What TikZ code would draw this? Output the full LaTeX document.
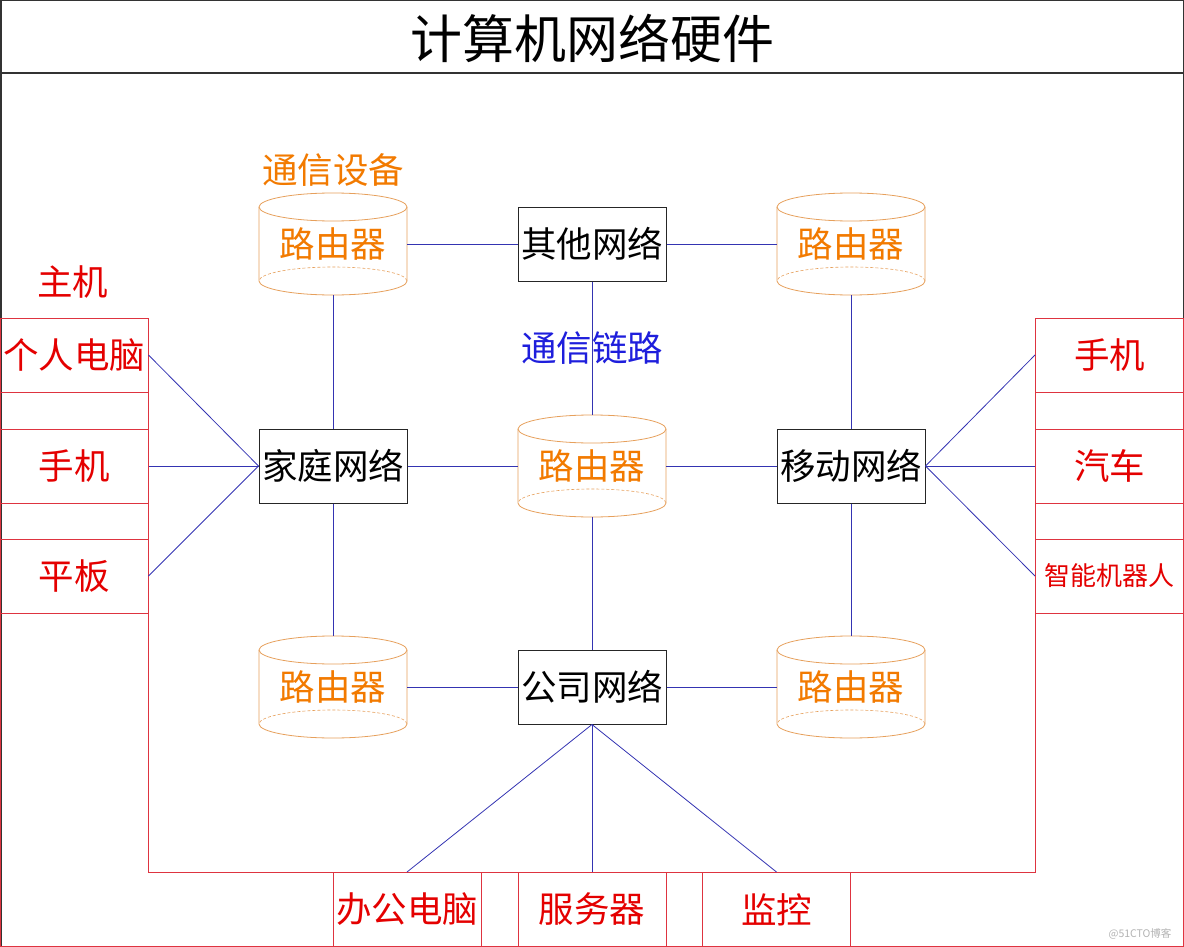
\documentclass[tikz,border=0pt]{standalone}
\usepackage{fontspec}
\newfontfamily\cjk{Noto Sans CJK SC}
\definecolor{hostred}{RGB}{228,0,0}
\definecolor{frame}{RGB}{222,52,64}
\definecolor{linkblue}{RGB}{52,52,178}
\definecolor{labelblue}{RGB}{30,30,220}
\definecolor{devorange}{RGB}{242,122,0}
\definecolor{cylline}{RGB}{230,160,92}
\begin{document}
\begin{tikzpicture}[x=1pt, y=-1pt,
    net/.style={draw=black!85, line width=1pt, minimum width=148pt, minimum height=74pt, inner sep=0pt, font=\cjk\fontsize{35.5}{40}\selectfont},
    host/.style={draw=frame, line width=1pt, minimum width=148pt, minimum height=74pt, inner sep=0pt, text=hostred, font=\cjk\fontsize{35.5}{40}\selectfont},
    router/.style={minimum width=148pt, minimum height=102pt, inner sep=0pt, text=devorange, font=\cjk\fontsize{35.5}{40}\selectfont},
    link/.style={draw=linkblue, line width=0.8pt},
    cyl/.style={draw=cylline, line width=0.8pt}]
      \useasboundingbox (0,0) rectangle (1184,947);
      \draw[line width=1.5pt, black!80] (0.75,0.75) rectangle (1183.25,946.25);
      \draw[line width=1.5pt, black!80] (0,73) -- (1184,73);
      \node[font=\cjk\fontsize{52}{58}\selectfont] (title) at (592,38) {计算机网络硬件};

      % red frame round the hosts
      \draw[frame, line width=1pt] (0.5,318) -| (148,872) -| (1035,318) -- (1183.5,318) |- (0.5,946.5) -- cycle;

      \node[host] (pc) at (74,355) {个人电脑};
      \node[host] (phoneL) at (74,466) {手机};
      \node[host] (pad) at (74,576) {平板};
      \node[host] (phoneR) at (1109.5,355) {手机};
      \node[host] (car) at (1109.5,466) {汽车};
      \node[host, font=\cjk\fontsize{26}{30}\selectfont] (robot) at (1109.5,576) {智能机器人};
      \node[host] (office) at (407,909.5) {办公电脑};
      \node[host] (server) at (592,909.5) {服务器};
      \node[host] (camera) at (776.5,909.5) {监控};

      \node[text=hostred, font=\cjk\fontsize{35.5}{40}\selectfont] (hostlabel) at (73,282) {主机};
      \node[text=devorange, font=\cjk\fontsize{35.5}{40}\selectfont] (devlabel) at (333,170) {通信设备};

      % routers
      \foreach \n/\x/\y in {rtl/333/244, rtr/851/244, rc/592/466, rbl/333/687, rbr/851/687} {
      \draw[cyl] (\x-74,\y-37) -- (\x-74,\y+37) arc[start angle=180, end angle=360, x radius=74pt, y radius=14pt] -- (\x+74,\y-37);
      \draw[cyl] (\x,\y-37) ellipse[x radius=74pt, y radius=14pt];
      \draw[cyl, densely dashed, line width=0.6pt] (\x+74,\y+37) arc[start angle=0, end angle=180, x radius=74pt, y radius=14pt];
      \node[router] (\n) at (\x,\y) {路由器};
      }

      \node[net] (other) at (592,244) {其他网络};
      \node[net] (home) at (333,466) {家庭网络};
      \node[net] (mobile) at (851,466) {移动网络};
      \node[net] (company) at (592,687) {公司网络};

      % links
      \draw[link] (rtl.east) -- (other.west);
      \draw[link] (other.east) -- (rtr.west);
      \draw[link] (rtl.south) -- (home.north);
      \draw[link] (rtr.south) -- (mobile.north);
      \draw[link] (other.south) -- (rc.north);
      \draw[link] (home.east) -- (rc.west);
      \draw[link] (rc.east) -- (mobile.west);
      \draw[link] (rc.south) -- (company.north);
      \draw[link] (home.south) -- (rbl.north);
      \draw[link] (mobile.south) -- (rbr.north);
      \draw[link] (rbl.east) -- (company.west);
      \draw[link] (company.east) -- (rbr.west);

      \foreach \h in {pc, phoneL, pad} {
      \draw[link] (\h.east) -- (home.west);
      }
      \foreach \h in {phoneR, car, robot} {
      \draw[link] (mobile.east) -- (\h.west);
      }
      \foreach \h in {office, server, camera} {
      \draw[link] (company.south) -- (\h.north);
      }

      \node[text=labelblue, font=\cjk\fontsize{35.5}{40}\selectfont] (linklabel) at (592,348) {通信链路};
      \node[text=black!30, font=\cjk\fontsize{10.5}{12}\selectfont] (mark) at (1140,934) {@51CTO博客};
    \end{tikzpicture}
\end{document}
